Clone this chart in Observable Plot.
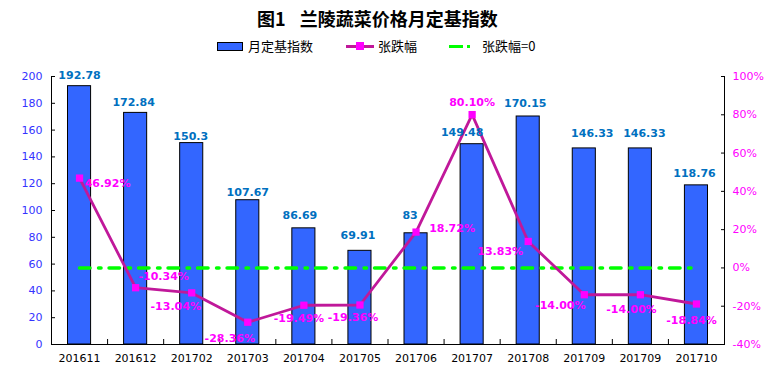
<!DOCTYPE html>
<html><head><meta charset="utf-8">
<script src="https://cdn.jsdelivr.net/npm/d3@7"></script>
<script src="https://cdn.jsdelivr.net/npm/@observablehq/plot@0.6"></script>
<style>
body{margin:0;background:#fff;}
#wrap{position:relative;width:770px;height:374px;font-family:"Noto Sans CJK SC",sans-serif;}
#title{position:absolute;left:257px;top:0;height:36px;line-height:36px;font-size:18px;font-weight:bold;white-space:pre;word-spacing:3px;color:#000;}
.lg{position:absolute;}
.lt{position:absolute;top:36px;line-height:20px;font-size:13px;color:#000;white-space:pre;}
#chart{position:absolute;left:0;top:60px;}
</style></head>
<body><div id="wrap">
<div id="title">图1  兰陵蔬菜价格月定基指数</div>
<div class="lg" style="left:217px;top:42px;width:26px;height:9px;box-sizing:border-box;background:#3366FF;border:1px solid #000;"></div>
<div class="lt" style="left:248px;">月定基指数</div>
<div class="lg" style="left:346px;top:45px;width:28px;height:3px;background:#C0189A;"></div>
<div class="lg" style="left:356px;top:42px;width:8px;height:8px;background:#FF00FF;"></div>
<div class="lt" style="left:378px;">张跌幅</div>
<div class="lg" style="left:449px;top:45px;width:14px;height:3px;background:#00FF00;"></div>
<div class="lg" style="left:467px;top:45px;width:3px;height:3px;background:#00FF00;"></div>
<div class="lt" style="left:482px;">张跌幅=0</div>
<div id="chart"></div>
</div>
<script>
const months = ["201611","201612","201702","201703","201704","201705","201706","201707","201708","201709","201709","201710"];
const indexValues = [192.78,172.84,150.3,107.67,86.69,69.91,83,149.48,170.15,146.33,146.33,118.76];
const changePct = [46.92,-10.34,-13.04,-28.36,-19.49,-19.36,18.72,80.10,13.83,-14.00,-14.00,-18.84];
const zeroRef = [0,0,0,0,0,0,0,0,0,0,0,0];
const leftTicks = [0,20,40,60,80,100,120,140,160,180,200];
const rightTicks = [-40,-20,0,20,40,60,80,100];

// label placement (pixel offsets), kept apart from the data
const barLabelOffsets = [[0,-11],[-2,-10],[-1,-7],[0,-8],[-4,-13],[-2,-15],[-6,-18],[-10,-12],[-3,-13],[8,-15],[4,-15],[-2,-12]];
const pctLabelOffsets = [[28,5],[28,-11],[-16,14],[-18,16],[-5,13],[-7,12],[36,-4],[0,-12],[-28,10],[-24,11],[-9,15],[-5,16]];

const rows = months.map((m, i) => ({i, m, v: indexValues[i], p: changePct[i], z: zeroRef[i]}));
const toLeft = p => (p + 40) / 140 * 200;
const fromLeft = v => v / 200 * 140 - 40;
const cx = d => d.i + 0.5;

const marks = [
  Plot.rectY(rows, {x1: d => d.i, x2: d => d.i + 1, y1: 0, y2: "v", insetLeft: 16.5, insetRight: 16.5, fill: "#3366FF", stroke: "#000", strokeWidth: 1}),
  Plot.lineY(rows, {x: cx, y: d => toLeft(d.z), stroke: "#00FF00", strokeWidth: 3.5, strokeDasharray: "10.5,8.5,2.5,8"}),
  Plot.lineY(rows, {x: cx, y: d => toLeft(d.p), stroke: "#C0189A", strokeWidth: 2.8}),
  Plot.dot(rows, {x: cx, y: d => toLeft(d.p), symbol: "square", r: 4.1, fill: "#FF00FF", stroke: null}),
  Plot.ruleX([0, 12], {stroke: "#000", strokeWidth: 1}),
  Plot.ruleY([0], {stroke: "#000", strokeWidth: 1}),
  Plot.axisY({anchor: "left", ticks: leftTicks, tickSize: -4, tickPadding: 13, fill: "#3333FF", stroke: "#000", label: null, fontSize: 11}),
  Plot.axisY({anchor: "right", ticks: rightTicks.map(toLeft), tickFormat: v => Math.round(fromLeft(v)) + "%", tickSize: -4, tickPadding: 12, fill: "#FF00FF", stroke: "#000", label: null, fontSize: 11}),
  Plot.axisX({ticks: months.map((m, i) => i + 0.5), tickFormat: v => months[Math.floor(v)], tickSize: 0, tickPadding: 10, fill: "#000", label: null, fontSize: 11}),
  Plot.axisX({ticks: d3.range(1, 13), tickFormat: () => "", tickSize: -5, stroke: "#000", label: null})
];
rows.forEach((d, k) => {
  marks.push(Plot.text([d], {x: cx, y: "v", text: r => String(r.v), dx: barLabelOffsets[k][0], dy: barLabelOffsets[k][1], fill: "#0070C0", fontWeight: "bold", fontSize: 11, textAnchor: "middle", lineAnchor: "middle"}));
  marks.push(Plot.text([d], {x: cx, y: r => toLeft(r.p), text: r => r.p.toFixed(2) + "%", dx: pctLabelOffsets[k][0], dy: pctLabelOffsets[k][1], fill: "#FF00FF", fontWeight: "bold", fontSize: 11, textAnchor: "middle", lineAnchor: "middle"}));
});

const chart = Plot.plot({
  width: 770, height: 314,
  marginTop: 16, marginBottom: 30, marginLeft: 51, marginRight: 46,
  style: {fontFamily: "DejaVu Sans", fontSize: "11px", background: "transparent", overflow: "visible"},
  x: {type: "linear", domain: [0, 12], axis: null},
  y: {domain: [0, 200], axis: null},
  marks
});
document.getElementById("chart").appendChild(chart);
</script>
</body></html>
